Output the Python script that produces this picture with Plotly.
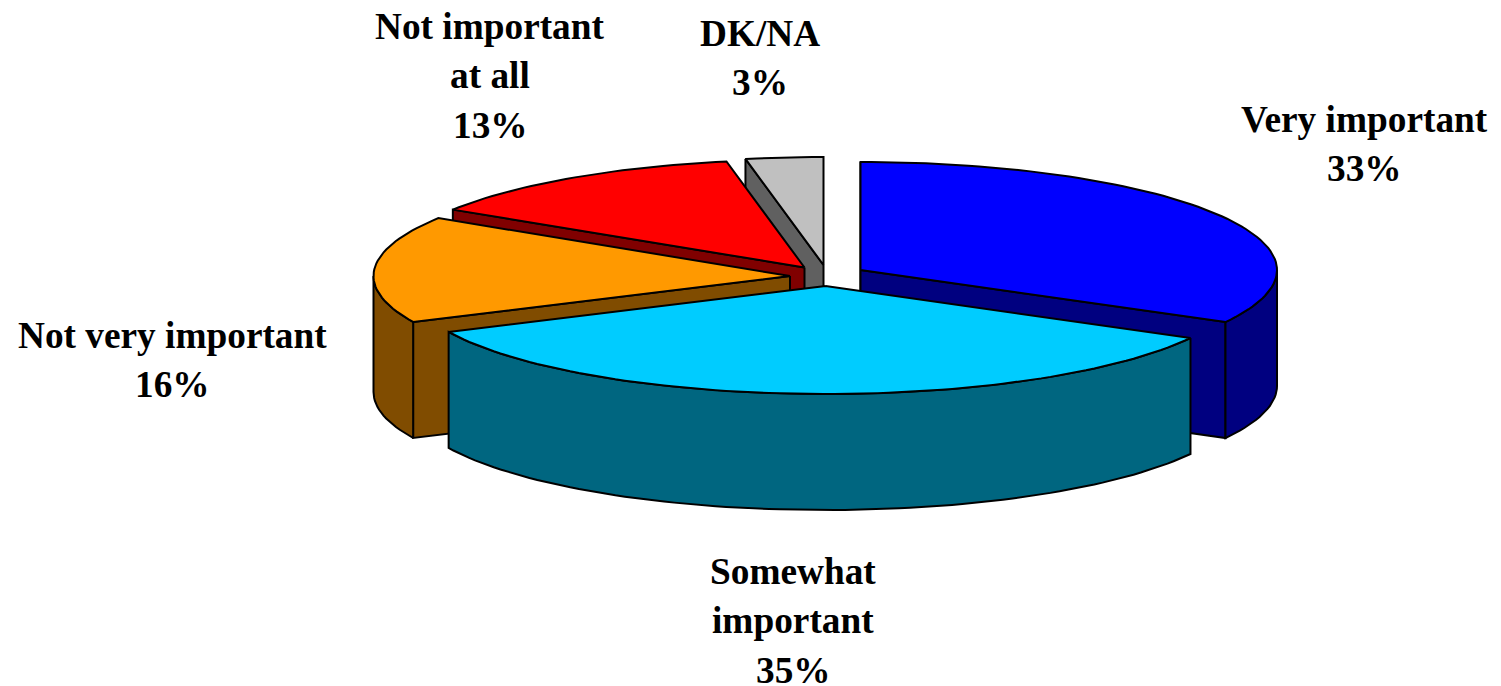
import math
import plotly.graph_objects as go

categories = ["Very important", "Somewhat important", "Not very important", "Not important at all", "DK/NA"]
shares = [33, 35, 16, 13, 3]
label_lines = [["Very important", "33%"], ["Somewhat", "important", "35%"], ["Not very important", "16%"],
               ["Not important", "at all", "13%"], ["DK/NA", "3%"]]
top_colors = ["#0000ff", "#00ccff", "#ff9900", "#ff0000", "#c0c0c0"]
side_colors = ["#000080", "#006680", "#804c00", "#800000", "#606060"]

# Drawing geometry (pixels of the 1501x686 page)
PAGE_W, PAGE_H = 1501, 686
RX, RY, DEPTH = 416.5, 108, 116
CENTERS = [(860.5, 270), (825.5, 286), (790, 276), (804.5, 267.5), (823.5, 265)]
LABEL_POS = [(1364, 119), (793, 571), (172, 335), (490, 26), (760, 33)]
LINE_STEP = 49.5
DRAW_ORDER = [4, 3, 2, 0, 1]


def rim(c, a):
    r = math.radians(a)
    return c[0] + RX * math.sin(r), c[1] - RY * math.cos(r)


def arc(c, a0, a1):
    n = max(2, int(abs(a1 - a0) / 1.5))
    return [rim(c, a0 + (a1 - a0) * i / n) for i in range(n + 1)]


fig = go.Figure()


def poly(pts, color):
    xs = [p[0] for p in pts] + [pts[0][0]]
    ys = [p[1] for p in pts] + [pts[0][1]]
    fig.add_trace(go.Scatter(x=xs, y=ys, mode="lines", fill="toself", fillcolor=color,
                             line=dict(color="black", width=2), hoverinfo="skip", showlegend=False))


def down(pts):
    return [(x, y + DEPTH) for x, y in pts]


cum = [0]
for v in shares:
    cum.append(cum[-1] + v)
total = cum[-1]

for i in DRAW_ORDER:
    a0, a1 = 360 * cum[i] / total, 360 * cum[i + 1] / total
    c = CENTERS[i]
    side = side_colors[i]
    if 180 < a0 < 360 or a0 == 0:
        edge = [c, rim(c, a0)]
        poly(edge + down(edge)[::-1], side)
    if 0 < a1 < 180:
        edge = [c, rim(c, a1)]
        poly(edge + down(edge)[::-1], side)
    lo, hi = max(a0, 90), min(a1, 270)
    if lo < hi:
        front = arc(c, lo, hi)
        poly(front + down(front)[::-1], side)
    poly([c] + arc(c, a0, a1), top_colors[i])

for lines, (x, y) in zip(label_lines, LABEL_POS):
    for k, t in enumerate(lines):
        fig.add_annotation(x=x, y=y + k * LINE_STEP, text=f"<b>{t}</b>", showarrow=False,
                           xanchor="center", yanchor="middle",
                           font=dict(family="Liberation Serif", size=37.3, color="black"))

# Canvas a little taller than the window so the last label's text box is not cut at the edge
CANVAS_H = PAGE_H + 14
fig.update_layout(
    width=PAGE_W, height=CANVAS_H, margin=dict(l=0, r=0, t=0, b=0), showlegend=False,
    paper_bgcolor="white", plot_bgcolor="white",
    xaxis=dict(range=[0, PAGE_W], visible=False, fixedrange=True),
    yaxis=dict(range=[CANVAS_H, 0], visible=False, fixedrange=True),
)
fig.write_html("out.html", config={"displayModeBar": False},
               post_script="document.body.style.margin='0';document.documentElement.style.overflow='hidden';")
